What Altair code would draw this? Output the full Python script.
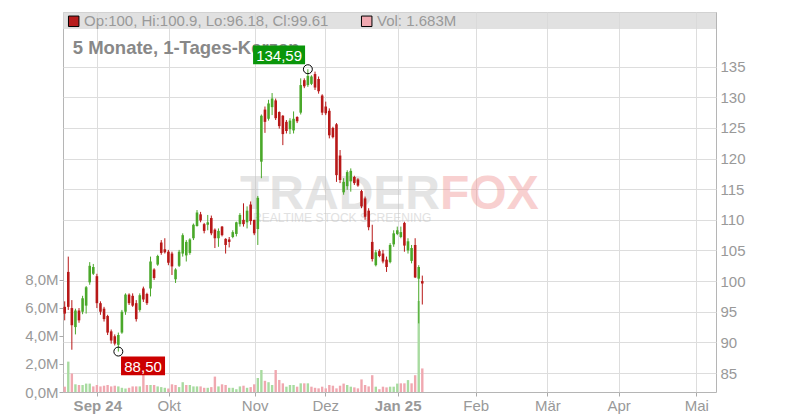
import altair as alt
import pandas as pd

# ---------------- data ----------------
opens = [95.8, 101.5, 95.6, 92.5, 95.2, 95.0, 96.0, 99.8, 101.2, 100.8,
         96.4, 95.5, 94.3, 91.8, 91.0, 89.6, 91.6, 95.0, 97.8, 97.6,
         96.4, 95.3, 98.8, 97.9, 98.8, 101.9, 102.7, 106.3, 105.2, 104.8,
         104.5, 100.3, 102.5, 104.5, 104.2, 104.6, 107.0, 109.0, 110.9, 109.3,
         109.2, 110.3, 108.4, 107.0, 108.9, 106.9, 106.8, 107.2, 107.7, 109.3,
         110.0, 109.6, 112.5, 110.0, 108.5, 119.5, 128.0, 126.5, 128.4, 129.5,
         127.6, 127.0, 126.0, 124.8, 124.6, 126.8, 127.5, 132.8, 132.0, 132.2,
         133.8, 133.0, 130.3, 128.5, 127.8, 125.0, 125.6, 120.5, 114.5, 115.5,
         116.3, 117.0, 116.6, 114.7, 113.5, 111.5, 106.4, 102.6, 104.9, 104.5,
         103.5, 103.1, 106.0, 107.7, 107.2, 109.5, 105.0, 103.3, 105.9, 100.4,
         100.0]
highs = [96.7, 104.0, 96.9, 95.5, 95.6, 97.6, 99.2, 103.1, 102.8, 101.2,
         96.7, 95.8, 94.5, 92.1, 91.3, 91.6, 95.3, 98.0, 98.0, 98.0,
         96.9, 98.0, 99.1, 98.1, 104.0, 102.1, 104.3, 106.7, 107.0, 105.1,
         104.8, 102.1, 105.1, 107.8, 106.7, 107.0, 109.4, 111.6, 111.3, 109.5,
         110.8, 110.7, 108.6, 108.6, 109.0, 107.0, 107.2, 108.3, 109.7, 111.1,
         112.7, 112.2, 113.0, 110.0, 113.9, 127.2, 128.5, 129.6, 130.7, 129.8,
         127.7, 127.1, 126.3, 126.6, 127.7, 126.9, 133.1, 133.1, 134.59, 133.6,
         134.2, 133.4, 130.5, 129.3, 128.2, 125.2, 125.8, 121.4, 116.8, 118.1,
         118.4, 117.2, 116.8, 114.9, 113.8, 111.9, 109.2, 105.1, 105.2, 105.1,
         104.0, 106.2, 108.3, 108.9, 108.9, 109.7, 107.0, 105.9, 107.0, 102.6,
         100.9]
lows = [93.6, 95.3, 88.8, 91.3, 93.2, 94.6, 94.7, 99.4, 101.0, 95.6,
        94.5, 93.4, 91.2, 89.8, 89.5, 88.5, 91.4, 94.5, 96.1, 95.8,
        93.4, 95.0, 96.6, 96.1, 97.5, 100.2, 102.5, 104.3, 104.5, 102.6,
        101.0, 99.7, 102.3, 104.0, 103.2, 104.3, 106.7, 108.9, 109.6, 107.8,
        108.3, 107.5, 105.4, 105.6, 107.3, 104.5, 105.5, 107.0, 107.3, 108.9,
        108.9, 108.6, 109.2, 107.5, 105.9, 116.8, 124.2, 126.2, 127.1, 126.3,
        124.9, 122.2, 124.1, 124.0, 124.1, 125.8, 127.2, 131.5, 131.7, 132.0,
        131.2, 130.6, 127.1, 127.1, 123.3, 123.3, 116.2, 116.0, 114.1, 114.9,
        114.6, 115.7, 115.4, 111.9, 110.0, 108.3, 103.2, 102.4, 103.9, 102.9,
        101.5, 102.9, 105.6, 107.5, 107.0, 104.8, 104.5, 102.9, 100.5, 93.1,
        96.18]
closes = [94.7, 95.8, 92.8, 95.2, 93.6, 97.2, 99.0, 102.5, 102.3, 96.4,
          95.0, 93.8, 91.6, 90.3, 89.8, 91.2, 95.0, 97.8, 96.4, 96.0,
          93.8, 97.7, 97.0, 96.4, 103.2, 100.5, 104.1, 104.6, 104.7, 103.0,
          102.4, 101.9, 104.8, 107.5, 106.4, 106.8, 109.2, 111.2, 109.9, 108.2,
          109.6, 107.8, 107.0, 108.2, 107.5, 105.9, 106.4, 108.0, 109.6, 110.8,
          109.3, 111.5, 109.8, 107.8, 113.6, 127.0, 126.0, 129.0, 129.8, 126.6,
          125.3, 124.0, 124.5, 126.2, 126.5, 126.1, 132.0, 131.8, 133.5, 133.4,
          131.6, 131.0, 127.5, 127.4, 123.8, 123.5, 117.3, 116.5, 116.2, 117.8,
          118.0, 116.0, 115.6, 112.2, 110.5, 108.8, 103.6, 104.7, 104.1, 103.2,
          102.3, 105.9, 107.8, 108.3, 108.0, 105.8, 106.5, 105.4, 100.6, 102.3,
          99.61]
volumes_m = [0.38, 2.17, 1.33, 0.55, 0.5, 0.5, 0.6, 0.6, 0.4, 0.5,
             0.4, 0.45, 0.5, 0.4, 0.45, 0.4, 0.3, 0.25, 0.3, 0.4,
             0.4, 0.4, 1.5, 0.5, 0.5, 0.5, 0.4, 0.35, 0.3, 0.25,
             0.55, 0.5, 0.35, 0.7, 0.5, 0.5, 0.4, 0.4, 0.4, 0.3,
             0.3, 0.35, 1.1, 0.4, 0.55, 0.5, 0.3, 0.3, 0.2, 0.4,
             0.45, 0.3, 0.35, 0.55, 1.0, 1.57, 0.8, 0.7, 0.5, 1.57,
             0.86, 0.62, 0.38, 0.5, 0.5, 0.38, 0.62, 0.62, 0.62, 0.38,
             0.3, 0.26, 0.38, 0.26, 0.5, 0.45, 0.26, 0.45, 0.6, 0.5,
             0.38, 0.33, 0.26, 0.9, 0.5, 0.4, 1.2, 0.38, 0.2, 0.38,
             0.33, 0.38, 0.38, 0.6, 0.62, 0.62, 0.85, 0.62, 1.2, 6.5,
             1.683]

month_labels = ["Sep 24", "Okt", "Nov", "Dez", "Jan 25", "Feb", "Mär", "Apr", "Mai"]
month_pos = [9.12, 29.08, 53.13, 72.87, 93.12, 114.93, 134.96, 154.92, 176.62]
price_ticks = [85, 90, 95, 100, 105, 110, 115, 120, 125, 130, 135]
vol_ticks = [0, 2, 4, 6, 8]
title_text = "5 Monate, 1-Tages-Kerzen"
watermark_main = "TRADER"
watermark_accent = "FOX"
watermark_sub = "REALTIME STOCK SCREENING"

X_DOM = [-0.475, 182.13]
P_DOM = [81.9, 143.93]
V_DOM = [0, 27.14]

W, H = 653, 380
FONT = "Liberation Sans"
GREEN, RED = "#4aa82a", "#b81818"
VGREEN, VPINK = "#a8dba0", "#f0a8b0"
LABEL = "#999999"

n = len(closes)
# volume bar colour: day's close against the previous close
vol_up = [closes[0] >= opens[0]] + [closes[k] >= closes[k - 1] for k in range(1, n)]
df = pd.DataFrame({"i": list(range(n)), "open": opens, "high": highs,
                   "low": lows, "close": closes, "vol": volumes_m, "vup": vol_up})

hi_i = max(range(n), key=lambda k: highs[k])
lo_i = min(range(n), key=lambda k: lows[k])


def de(v):
    return f"{v:.2f}".replace(".", ",")


hi_df = pd.DataFrame({"i": [hi_i], "p": [highs[hi_i]], "label": [de(highs[hi_i])]})
lo_df = pd.DataFrame({"i": [lo_i], "p": [lows[lo_i]], "label": [de(lows[lo_i])]})
ext_df = pd.concat([hi_df, lo_df], ignore_index=True)

header_text = f"Op:{opens[-1]:g}, Hi:{highs[-1]:g}, Lo:{lows[-1]:g}, Cl:{closes[-1]:g}"
vol_text = f"Vol: {volumes_m[-1]:.3f}M"
one = pd.DataFrame({"t": [0]})

# ---------------- axes / scales ----------------
expr = f"'{month_labels[-1]}'"
for k in range(len(month_pos) - 2, -1, -1):
    mid = (month_pos[k] + month_pos[k + 1]) / 2
    expr = f"datum.value < {mid:.2f} ? '{month_labels[k]}' : ({expr})"
bold_test = " || ".join(
    f"abs(datum.value - {p}) < 0.5" for p, l in zip(month_pos, month_labels)
    if any(ch.isdigit() for ch in l))

x_axis = alt.Axis(values=month_pos, labelExpr=expr, grid=True, gridColor="#dddddd",
                  domain=False, tickColor="#aaaaaa", tickSize=4, labelPadding=2,
                  labelFontSize=15, labelColor=LABEL, labelFont=FONT, title=None,
                  labelFontWeight={"condition": {"test": bold_test, "value": "bold"},
                                   "value": "normal"})
x_enc = alt.X("i:Q", scale=alt.Scale(domain=X_DOM, nice=False, zero=False, padding=0),
              axis=x_axis)

p_scale = alt.Scale(domain=P_DOM, nice=False, zero=False, padding=0)
p_axis = alt.Axis(orient="right", values=price_ticks, format="d", grid=True,
                  gridColor="#dddddd", domain=False, ticks=False, labelPadding=4,
                  labelFontSize=15, labelColor=LABEL, labelFont=FONT, title=None)

v_axis = alt.Axis(orient="left", values=vol_ticks, grid=False, domain=False,
                  tickColor="#aaaaaa", tickSize=4, labelPadding=1,
                  labelExpr="replace(format(datum.value, '.1f'), '.', ',') + 'M'",
                  labelFontSize=15, labelColor=LABEL, labelFont=FONT, title=None)

up = "datum.close >= datum.open"

# ---------------- volume layer ----------------
vol_layer = alt.Chart(df).mark_bar(size=2.4).encode(
    x=x_enc,
    y=alt.Y("vol:Q", scale=alt.Scale(domain=V_DOM, nice=False, zero=True, padding=0),
            axis=v_axis),
    color=alt.condition("datum.vup", alt.value(VGREEN), alt.value(VPINK)),
)

# ---------------- price layers ----------------
header = alt.Chart(one).mark_rect(color="#dadada", opacity=0.8).encode(
    x=alt.value(0), x2=alt.value(W), y=alt.value(0), y2=alt.value(17))

wm1 = alt.Chart(one).mark_text(text=watermark_main, font=FONT, fontSize=48, fontWeight="bold",
                               color="#c4c4c4", opacity=0.45, align="left",
                               baseline="alphabetic").encode(x=alt.value(177), y=alt.value(197))
wm2 = alt.Chart(one).mark_text(text=watermark_accent, font=FONT, fontSize=48, fontWeight="bold",
                               color="#f08c8c", opacity=0.4, align="left",
                               baseline="alphabetic").encode(x=alt.value(377), y=alt.value(197))
wm3 = alt.Chart(one).mark_text(text=watermark_sub, font=FONT, fontSize=12,
                               color="#c4c4c4", opacity=0.5, align="left",
                               baseline="alphabetic").encode(x=alt.value(190), y=alt.value(210))

title = alt.Chart(one).mark_text(text=title_text, font=FONT, fontSize=18.5, fontWeight="bold",
                                 color="#888888", align="left", baseline="alphabetic").encode(
    x=alt.value(9.7), y=alt.value(42))

hdr_txt = alt.Chart(one).mark_text(text=header_text, font=FONT, fontSize=15, color=LABEL,
                                   align="left", baseline="alphabetic").encode(
    x=alt.value(21), y=alt.value(14.3))
vol_txt = alt.Chart(one).mark_text(text=vol_text, font=FONT, fontSize=15, color=LABEL,
                                   align="left", baseline="alphabetic").encode(
    x=alt.value(314), y=alt.value(14.3))
sq1 = alt.Chart(one).mark_square(size=110, color="#b71c1c", stroke="black", strokeWidth=1,
                                 opacity=1).encode(x=alt.value(10.7), y=alt.value(9.3))
sq2 = alt.Chart(one).mark_square(size=110, color=VPINK, stroke="black", strokeWidth=1,
                                 opacity=1).encode(x=alt.value(303.7), y=alt.value(9.3))

wicks = alt.Chart(df).mark_rule(strokeWidth=1).encode(
    x=x_enc,
    y=alt.Y("low:Q", scale=p_scale, axis=p_axis),
    y2="high:Q",
    color=alt.condition(up, alt.value(GREEN), alt.value(RED)),
)
bodies = alt.Chart(df).mark_bar(size=2.6).encode(
    x=x_enc,
    y=alt.Y("open:Q", scale=p_scale, axis=p_axis),
    y2="close:Q",
    color=alt.condition(up, alt.value(GREEN), alt.value(RED)),
)
circles = alt.Chart(ext_df).mark_point(shape="circle", size=80, filled=False, color="black",
                                       strokeWidth=1, opacity=1).encode(
    x=x_enc, y=alt.Y("p:Q", scale=p_scale, axis=p_axis))

hi_box = alt.Chart(hi_df).mark_point(shape="M-1,-0.36L1,-0.36L1,0.36L-1,0.36Z", size=52 * 52,
                                     filled=True, color="#0a960a", opacity=1,
                                     xOffset=-28.8, yOffset=-14.3).encode(
    x=x_enc, y=alt.Y("p:Q", scale=p_scale, axis=p_axis))
hi_lbl = alt.Chart(hi_df).mark_text(font=FONT, fontSize=15, color="white", align="center",
                                    baseline="middle", dx=-28.8, dy=-13.6).encode(
    x=x_enc, y=alt.Y("p:Q", scale=p_scale, axis=p_axis), text="label:N")
lo_box = alt.Chart(lo_df).mark_point(shape="M-1,-0.425L1,-0.425L1,0.425L-1,0.425Z", size=44 * 44,
                                     filled=True, color="#cc0000", opacity=1,
                                     xOffset=24.7, yOffset=14.4).encode(
    x=x_enc, y=alt.Y("p:Q", scale=p_scale, axis=p_axis))
lo_lbl = alt.Chart(lo_df).mark_text(font=FONT, fontSize=15, color="white", align="center",
                                    baseline="middle", dx=24.7, dy=15.1).encode(
    x=x_enc, y=alt.Y("p:Q", scale=p_scale, axis=p_axis), text="label:N")

price_layer = alt.layer(header, wm1, wm2, wm3, title, hdr_txt, vol_txt, sq1, sq2,
                        wicks, bodies, circles, hi_box, hi_lbl, lo_box, lo_lbl)

chart = alt.layer(vol_layer, price_layer).resolve_scale(y="independent").properties(
    width=W, height=H,
    autosize=alt.AutoSizeParams(type="none"),
    padding={"left": 55, "top": 4, "right": 76, "bottom": 24},
    background="white",
).configure_view(stroke="#b5b5b5", strokeWidth=1)

chart.save("out.html", embed_options={"renderer": "svg", "actions": False})
